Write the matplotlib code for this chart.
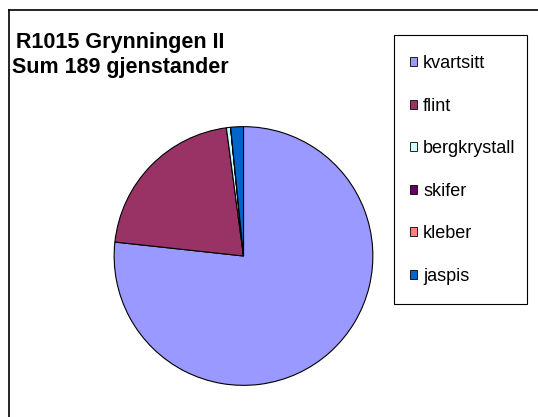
import matplotlib.pyplot as plt
from matplotlib.patches import Patch, Rectangle
from matplotlib.lines import Line2D

plt.rcParams['font.family'] = ['Liberation Sans', 'DejaVu Sans']

# Gjenstander etter råstoff
kategorier = ['kvartsitt', 'flint', 'bergkrystall', 'skifer', 'kleber', 'jaspis']
antall = [145, 40, 1, 0, 0, 3]
farger = ['#9999FF', '#993366', '#CCFFFF', '#660066', '#FF8080', '#0066CC']

W, H = 538, 417
fig = plt.figure(figsize=(W / 100, H / 100), dpi=100)

# ramme (bare venstre og topp synlig)
fig.add_artist(Line2D([8.5 / W, 8.5 / W], [0, 1 - 9.5 / H], color='black', lw=1.2))
fig.add_artist(Line2D([8.5 / W, 1], [1 - 9.5 / H, 1 - 9.5 / H], color='black', lw=1.2))

ax = fig.add_axes([113.5 / W, 31 / H, 260 / W, 260 / H])
ax.pie(antall, colors=farger, startangle=90, counterclock=False,
       wedgeprops=dict(edgecolor='black', linewidth=0.8))
ax.set_xlim(-1.005, 1.005)
ax.set_ylim(-1.005, 1.005)
ax.set_aspect('equal')

fig.text(120 / W, 1 - 55 / H, 'R1015 Grynningen II\nSum 189 gjenstander',
         ha='center', va='center', fontsize=15.5, fontweight='bold', linespacing=1.2)

# tegnforklaring med egen ramme
fig.add_artist(Rectangle((394 / W, 1 - 304 / H), 133 / W, 269 / H,
                         transform=fig.transFigure, facecolor='white',
                         edgecolor='black', linewidth=0.8))
handles = [Patch(facecolor=c, edgecolor='black', linewidth=0.6) for c in farger]
leg = fig.legend(handles, kategorier, loc='upper left',
                 bbox_to_anchor=(410 / W, 1 - 55 / H), fontsize=13,
                 handlelength=0.4, handleheight=0.4, handletextpad=0.33,
                 labelspacing=1.415, borderpad=0, borderaxespad=0,
                 frameon=False)

fig.savefig('out.png', dpi=100)
